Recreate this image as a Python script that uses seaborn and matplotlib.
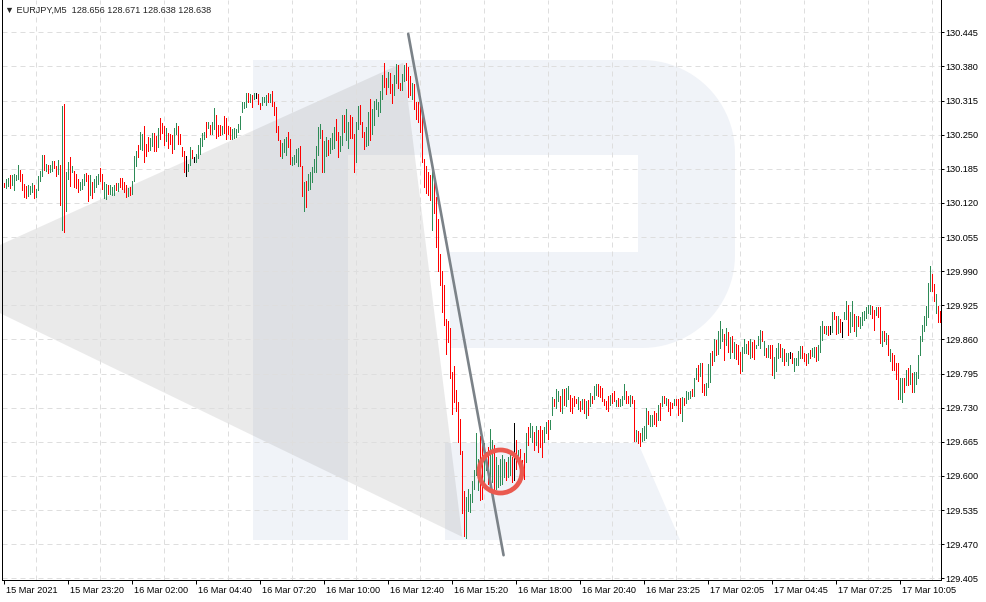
import numpy as np
import pandas as pd
import seaborn as sns
import matplotlib.pyplot as plt
from matplotlib.patches import Polygon
from matplotlib import transforms

# EURJPY M5 bars, 15 Mar 20:40 .. 17 Mar 11:20
high = [
    130.158, 130.165, 130.168, 130.173, 130.173, 130.175, 130.174, 130.192, 130.183, 130.175,
    130.156, 130.153, 130.154, 130.153, 130.158, 130.154, 130.146, 130.172, 130.180, 130.211,
    130.211, 130.194, 130.192, 130.192, 130.200, 130.200, 130.191, 130.202, 130.192, 130.305,
    130.309, 130.179, 130.198, 130.207, 130.190, 130.181, 130.175, 130.165, 130.160, 130.165,
    130.176, 130.177, 130.174, 130.173, 130.159, 130.165, 130.172, 130.175, 130.186, 130.175,
    130.159, 130.156, 130.154, 130.154, 130.151, 130.154, 130.158, 130.158, 130.167, 130.168,
    130.159, 130.154, 130.149, 130.151, 130.162, 130.209, 130.219, 130.230, 130.256, 130.251,
    130.267, 130.232, 130.246, 130.243, 130.253, 130.253, 130.247, 130.262, 130.281, 130.272,
    130.267, 130.262, 130.254, 130.251, 130.249, 130.262, 130.272, 130.267, 130.251, 130.227,
    130.219, 130.209, 130.194, 130.226, 130.221, 130.207, 130.213, 130.231, 130.243, 130.254,
    130.256, 130.275, 130.274, 130.268, 130.275, 130.300, 130.288, 130.268, 130.268, 130.267,
    130.286, 130.281, 130.267, 130.264, 130.261, 130.262, 130.261, 130.271, 130.285, 130.312,
    130.313, 130.330, 130.330, 130.328, 130.326, 130.330, 130.330, 130.328, 130.311, 130.322,
    130.322, 130.325, 130.330, 130.328, 130.334, 130.312, 130.303, 130.266, 130.239, 130.235,
    130.241, 130.245, 130.256, 130.241, 130.207, 130.212, 130.223, 130.225, 130.228, 130.190,
    130.160, 130.161, 130.176, 130.179, 130.188, 130.203, 130.228, 130.265, 130.271, 130.258,
    130.238, 130.245, 130.239, 130.244, 130.253, 130.265, 130.279, 130.256, 130.247, 130.287,
    130.287, 130.298, 130.274, 130.288, 130.284, 130.252, 130.274, 130.304, 130.306, 130.275,
    130.255, 130.265, 130.294, 130.317, 130.299, 130.315, 130.317, 130.312, 130.334, 130.363,
    130.387, 130.358, 130.369, 130.368, 130.347, 130.364, 130.385, 130.383, 130.349, 130.366,
    130.383, 130.387, 130.379, 130.362, 130.349, 130.347, 130.313, 130.312, 130.309, 130.303,
    130.203, 130.191, 130.178, 130.174, 130.180, 130.160, 130.131, 130.090, 130.023, 129.991,
    129.963, 129.899, 129.896, 129.882, 129.798, 129.809, 129.763, 129.741, 129.708, 129.647,
    129.572, 129.560, 129.575, 129.566, 129.590, 129.612, 129.681, 129.633, 129.677, 129.671,
    129.662, 129.646, 129.655, 129.690, 129.668, 129.658, 129.636, 129.620, 129.633, 129.639,
    129.633, 129.627, 129.636, 129.639, 129.636, 129.700, 129.668, 129.649, 129.652, 129.630,
    129.643, 129.681, 129.693, 129.700, 129.696, 129.684, 129.695, 129.687, 129.696, 129.687,
    129.693, 129.703, 129.706, 129.706, 129.751, 129.746, 129.765, 129.761, 129.752, 129.765,
    129.765, 129.768, 129.772, 129.755, 129.749, 129.752, 129.747, 129.751, 129.742, 129.746,
    129.746, 129.742, 129.744, 129.758, 129.753, 129.772, 129.776, 129.776, 129.771, 129.768,
    129.746, 129.742, 129.752, 129.755, 129.758, 129.761, 129.744, 129.749, 129.747, 129.752,
    129.776, 129.761, 129.752, 129.755, 129.752, 129.744, 129.688, 129.685, 129.682, 129.692,
    129.695, 129.730, 129.723, 129.717, 129.717, 129.723, 129.720, 129.736, 129.739, 129.752,
    129.752, 129.749, 129.746, 129.740, 129.739, 129.746, 129.746, 129.746, 129.749, 129.751,
    129.749, 129.761, 129.760, 129.761, 129.766, 129.787, 129.806, 129.812, 129.815, 129.815,
    129.776, 129.777, 129.814, 129.834, 129.838, 129.861, 129.859, 129.876, 129.896, 129.880,
    129.870, 129.881, 129.875, 129.865, 129.867, 129.855, 129.851, 129.850, 129.837, 129.846,
    129.861, 129.851, 129.857, 129.861, 129.855, 129.859, 129.850, 129.867, 129.878, 129.876,
    129.857, 129.844, 129.850, 129.850, 129.850, 129.827, 129.843, 129.853, 129.851, 129.844,
    129.842, 129.834, 129.835, 129.837, 129.834, 129.824, 129.824, 129.838, 129.848, 129.848,
    129.835, 129.832, 129.835, 129.840, 129.844, 129.846, 129.846, 129.850, 129.885, 129.896,
    129.886, 129.886, 129.885, 129.885, 129.913, 129.912, 129.904, 129.904, 129.899, 129.894,
    129.913, 129.934, 129.926, 129.913, 129.933, 129.908, 129.904, 129.904, 129.902, 129.912,
    129.915, 129.921, 129.926, 129.926, 129.923, 129.917, 129.921, 129.921, 129.921, 129.876,
    129.876, 129.872, 129.869, 129.842, 129.834, 129.830, 129.816, 129.816, 129.787, 129.786,
    129.787, 129.802, 129.805, 129.811, 129.797, 129.798, 129.798, 129.830, 129.867, 129.887,
    129.904, 129.923, 129.968, 130.000, 129.985, 129.966, 129.947, 129.923, 129.915,
]
low = [
    130.150, 130.149, 130.153, 130.148, 130.154, 130.145, 130.164, 130.165, 130.162, 130.144,
    130.131, 130.130, 130.133, 130.137, 130.140, 130.130, 130.132, 130.145, 130.162, 130.172,
    130.183, 130.181, 130.177, 130.179, 130.181, 130.186, 130.172, 130.175, 130.116, 130.068,
    130.065, 130.105, 130.165, 130.153, 130.178, 130.151, 130.149, 130.141, 130.145, 130.147,
    130.154, 130.162, 130.124, 130.135, 130.130, 130.140, 130.151, 130.156, 130.162, 130.146,
    130.130, 130.127, 130.137, 130.137, 130.135, 130.135, 130.144, 130.143, 130.151, 130.147,
    130.140, 130.132, 130.133, 130.135, 130.137, 130.162, 130.191, 130.207, 130.223, 130.221,
    130.198, 130.209, 130.218, 130.221, 130.229, 130.219, 130.218, 130.226, 130.242, 130.254,
    130.230, 130.237, 130.225, 130.232, 130.215, 130.223, 130.251, 130.232, 130.232, 130.209,
    130.179, 130.172, 130.181, 130.192, 130.205, 130.197, 130.197, 130.205, 130.213, 130.229,
    130.242, 130.245, 130.262, 130.251, 130.251, 130.261, 130.243, 130.248, 130.249, 130.251,
    130.254, 130.242, 130.251, 130.241, 130.241, 130.243, 130.245, 130.255, 130.260, 130.293,
    130.301, 130.303, 130.312, 130.312, 130.303, 130.318, 130.320, 130.309, 130.299, 130.307,
    130.312, 130.307, 130.312, 130.312, 130.305, 130.288, 130.255, 130.239, 130.209, 130.205,
    130.217, 130.211, 130.226, 130.195, 130.193, 130.195, 130.197, 130.191, 130.191, 130.133,
    130.104, 130.112, 130.144, 130.147, 130.160, 130.179, 130.179, 130.212, 130.244, 130.178,
    130.179, 130.209, 130.212, 130.216, 130.222, 130.225, 130.239, 130.207, 130.218, 130.231,
    130.256, 130.239, 130.225, 130.244, 130.244, 130.179, 130.198, 130.260, 130.271, 130.245,
    130.222, 130.228, 130.231, 130.239, 130.252, 130.269, 130.298, 130.285, 130.294, 130.317,
    130.341, 130.328, 130.341, 130.330, 130.311, 130.326, 130.349, 130.339, 130.336, 130.336,
    130.353, 130.355, 130.322, 130.326, 130.318, 130.299, 130.280, 130.275, 130.255, 130.198,
    130.150, 130.139, 130.136, 130.125, 130.068, 130.101, 130.036, 129.990, 129.963, 129.912,
    129.888, 129.833, 129.855, 129.786, 129.718, 129.741, 129.723, 129.664, 129.642, 129.530,
    129.485, 129.481, 129.534, 129.532, 129.551, 129.575, 129.601, 129.573, 129.554, 129.557,
    129.579, 129.611, 129.585, 129.579, 129.589, 129.570, 129.576, 129.579, 129.582, 129.585,
    129.598, 129.592, 129.598, 129.601, 129.589, 129.592, 129.614, 129.624, 129.614, 129.598,
    129.595, 129.627, 129.658, 129.674, 129.665, 129.649, 129.658, 129.646, 129.655, 129.636,
    129.665, 129.681, 129.671, 129.690, 129.717, 129.734, 129.730, 129.742, 129.723, 129.720,
    129.736, 129.733, 129.746, 129.723, 129.720, 129.733, 129.739, 129.727, 129.723, 129.728,
    129.720, 129.711, 129.717, 129.733, 129.739, 129.746, 129.755, 129.752, 129.751, 129.742,
    129.736, 129.727, 129.723, 129.736, 129.739, 129.742, 129.733, 129.733, 129.733, 129.736,
    129.746, 129.739, 129.739, 129.733, 129.739, 129.666, 129.666, 129.663, 129.657, 129.666,
    129.669, 129.673, 129.698, 129.695, 129.695, 129.698, 129.695, 129.707, 129.707, 129.733,
    129.739, 129.736, 129.723, 129.717, 129.730, 129.736, 129.736, 129.717, 129.720, 129.704,
    129.736, 129.739, 129.746, 129.749, 129.753, 129.752, 129.784, 129.780, 129.791, 129.759,
    129.754, 129.754, 129.770, 129.779, 129.811, 129.819, 129.830, 129.832, 129.843, 129.857,
    129.821, 129.850, 129.837, 129.824, 129.837, 129.824, 129.823, 129.814, 129.797, 129.800,
    129.834, 129.834, 129.832, 129.825, 129.827, 129.823, 129.843, 129.850, 129.843, 129.857,
    129.830, 129.827, 129.827, 129.825, 129.793, 129.786, 129.800, 129.825, 129.827, 129.819,
    129.812, 129.818, 129.812, 129.825, 129.816, 129.800, 129.811, 129.811, 129.824, 129.824,
    129.818, 129.811, 129.816, 129.824, 129.829, 129.827, 129.818, 129.821, 129.837, 129.859,
    129.872, 129.870, 129.869, 129.871, 129.874, 129.899, 129.871, 129.872, 129.875, 129.864,
    129.899, 129.899, 129.869, 129.875, 129.885, 129.876, 129.867, 129.885, 129.881, 129.887,
    129.897, 129.901, 129.910, 129.908, 129.901, 129.878, 129.906, 129.902, 129.853, 129.848,
    129.857, 129.851, 129.830, 129.818, 129.802, 129.802, 129.784, 129.746, 129.747, 129.741,
    129.759, 129.773, 129.773, 129.776, 129.759, 129.760, 129.776, 129.787, 129.830, 129.857,
    129.876, 129.887, 129.902, 129.953, 129.952, 129.933, 129.910, 129.894, 129.894,
]
# g = up bar, r = down bar, k = unchanged
bar_dir = (
    "rggrggggrr" "rrgggrgggg" "rgrggrrgrg" "rggrgrrrgg" "grrgrgggrr"
    "ggrgggrgrr" "rrgrgggrgg" "rrrggrrgrr" "rgrrrggrrr" "rkggrkgggg"
    "grgrggrrrg" "rrrrgggggg" "ggrgrgkrrg" "ggrgrrrrrg" "ggrrggggrr"
    "grgggggggr" "ggrgggrrgg" "rggrrrggrr" "rggrgggggg" "rrgrrggrrg"
    "grrrgrrrrr" "rrrrgrrrrr" "rrrrrrrrrr" "rgggggggrr" "ggrggrgggg"
    "grggrkrgrr" "rgrggrgrrr" "ggrggrggrg" "rggrrrrgrg" "rgrgrggrrr"
    "rrrgrrgrgg" "grrgrrgrrg" "ggrggrrgrg" "rgrrrgrrrg" "rgggrggrgr"
    "rgggrgrggg" "rgrgrgrrrg" "ggrgrrgggr" "grgrrgggrg" "rggkrggggr"
    "rrgrggrggg" "rgrkgrrgrk" "ggrggrgrgg" "ggggrrgrrg" "rgrgrrrrgg"
    "rgrgrggggg" "ggggrrgrr"
)

x_labels = ["15 Mar 2021", "15 Mar 23:20", "16 Mar 02:00", "16 Mar 04:40",
            "16 Mar 07:20", "16 Mar 10:00", "16 Mar 12:40", "16 Mar 15:20",
            "16 Mar 18:00", "16 Mar 20:40", "16 Mar 23:25", "17 Mar 02:05",
            "17 Mar 04:45", "17 Mar 07:25", "17 Mar 10:05"]
y_ticks = [129.405, 129.470, 129.535, 129.600, 129.665, 129.730, 129.795,
           129.860, 129.925, 129.990, 130.055, 130.120, 130.185, 130.250,
           130.315, 130.380, 130.445]

# drawn pattern (bar index, price)
pattern_x = [-1.75, 199.75, 229.25, -1.75]
pattern_y = [130.040, 130.387, 129.484, 129.910]
trend_x = [202.25, 249.9]
trend_y = [130.442, 129.449]
circle_x = [247.9]
circle_y = [129.610]

sns.set_style("white")
plt.rcParams['font.family'] = ['Liberation Sans', 'DejaVu Sans']

df = pd.DataFrame({"bar": np.arange(len(high)), "high": high, "low": low,
                   "dir": list(bar_dir)})
palette = {"g": "#2e8b57", "r": "#ff0000", "k": "#000000"}

W, H = 987, 602
fig = plt.figure(figsize=(W / 100, H / 100), dpi=100)
ax = fig.add_axes([2.5 / W, 22 / H, 938.5 / W, 580 / H])
ax.set_facecolor("white")

# watermark logo, in pixel space of the figure
px = transforms.Affine2D().scale(1 / W, -1 / H).translate(0, 1) + fig.transFigure
logo_col = "#f0f3f8"

def arc(cx, cy, r, a0, a1, n=24):
    t = np.radians(np.linspace(a0, a1, n))
    return list(zip(cx + r * np.cos(t), cy + r * np.sin(t)))

outline = [(253, 60)] + arc(642, 153, 93, -90, 0) + arc(642, 255, 93, 0, 90) + \
    [(450, 348), (450, 252), (638, 252), (638, 155), (348, 155), (348, 540), (253, 540)]
ax.add_patch(Polygon(outline, closed=True, transform=px, facecolor=logo_col,
                     lw=0, zorder=0.1, clip_on=False))
ax.add_patch(Polygon([(445, 443), (638, 443), (680, 540), (445, 540)], closed=True,
                     transform=px, facecolor=logo_col, lw=0, zorder=0.1, clip_on=False))

# pattern shading
ax.fill(pattern_x, pattern_y, color="#808080", alpha=0.16, lw=0, zorder=1,
        clip_on=False)

# bars
ax.vlines(df["bar"], df["low"], df["high"], colors=df["dir"].map(palette),
          linewidth=0.5, antialiased=False, zorder=3)

# trend line and marker circle
sns.lineplot(x=trend_x, y=trend_y, ax=ax, color="#7b8288", linewidth=1.9,
             zorder=4, sort=False)
ax.plot(circle_x, circle_y, marker="o", ms=31, mfc="none", mec="#ea5a50",
        mew=3.4, zorder=5, linestyle="none")

ax.set_xlim(-0.5, 468.5)
ax.set_ylim(129.4018, 130.5065)

ax.set_xticks(np.arange(0, 449, 32))
ax.set_xticklabels(x_labels)
ax.set_xticks(np.arange(0, 469, 16), minor=True)
ax.set_yticks(y_ticks)
ax.set_yticklabels([f"{v:.3f}" for v in y_ticks])
ax.yaxis.tick_right()

ax.set_axisbelow("line")
ax.grid(True, which="minor", axis="x", color="#dedede", linewidth=0.72,
        linestyle=(0, (5, 4)))
ax.grid(True, which="major", axis="y", color="#dedede", linewidth=0.72,
        linestyle=(0, (5, 4)))
ax.grid(False, which="major", axis="x")

ax.tick_params(axis="x", which="major", length=3, width=0.72, pad=1.5,
               labelsize=6.6, colors="black", bottom=True)
ax.tick_params(axis="x", which="minor", length=0)
ax.tick_params(axis="y", which="major", length=2.2, width=0.72, pad=1.2,
               labelsize=6.6, colors="black", right=True, left=False)

shift = transforms.ScaledTranslation(2 / 100, 0, fig.dpi_scale_trans)
for lab in ax.get_xticklabels():
    lab.set_horizontalalignment("left")
    lab.set_transform(lab.get_transform() + shift)

for side in ["left", "right", "bottom"]:
    ax.spines[side].set_visible(True)
    ax.spines[side].set_color("black")
    ax.spines[side].set_linewidth(0.72)
ax.spines["top"].set_visible(False)

fig.text(5 / W, 1 - 10 / H, "\u25bc EURJPY,M5  128.656 128.671 128.638 128.638",
         fontsize=6.6, va="center", ha="left")

fig.savefig("out.png", dpi=100)
